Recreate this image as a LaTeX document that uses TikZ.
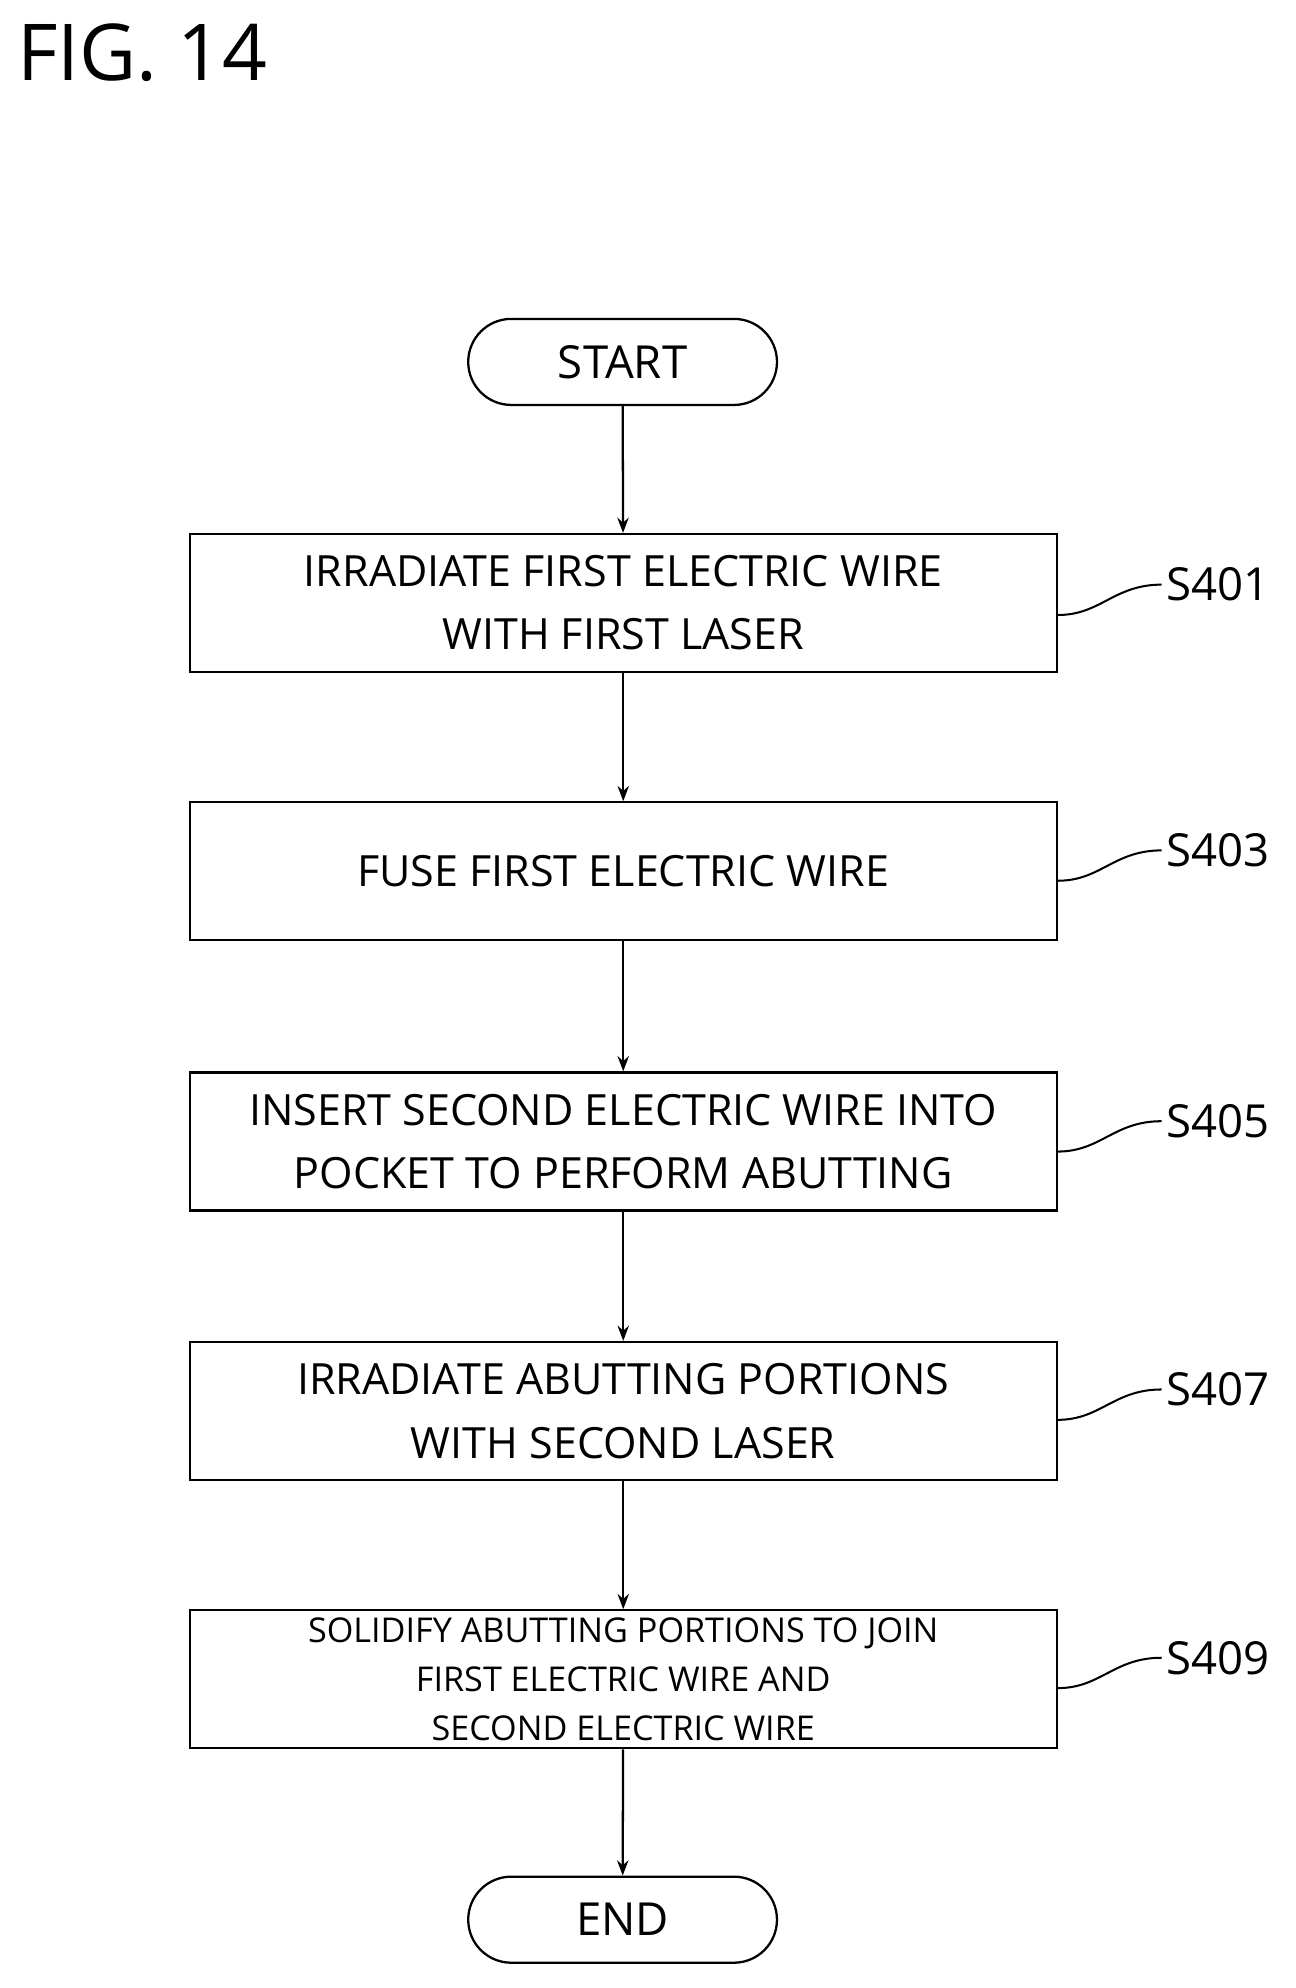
\documentclass[tikz,border=0pt]{standalone}
\usepackage{fontspec}
\setmainfont{Open Sans}
\usetikzlibrary{arrows.meta}
\begin{document}
\begin{tikzpicture}[x=1pt,y=-1pt,
  box/.style={draw,line width=1.8pt,minimum width=685pt,minimum height=109pt,align=center,inner sep=0pt,font=\fontsize{34}{50}\selectfont},
  term/.style={draw,line width=1.8pt,rounded corners=34pt,minimum width=244pt,minimum height=68pt,font=\fontsize{36}{40}\selectfont},
  lab/.style={font=\fontsize{36}{40}\selectfont},
  arr/.style={line width=1.8pt,-{Stealth[length=12pt,width=9pt]}},
  sq/.style={line width=1.6pt}]
\useasboundingbox (0,0) rectangle (1024,1571);
\node[anchor=west,font=\fontsize{62}{66}\selectfont] (fig) at (10,42) {FIG. 14};
\node[term] (start) at (492,286) {START};
\node[box] (b1) at (492.5,476.5) {IRRADIATE FIRST ELECTRIC WIRE\\WITH FIRST LASER};
\node[box] (b2) at (492.5,688.5) {FUSE FIRST ELECTRIC WIRE};
\node[box] (b3) at (492.5,902) {INSERT SECOND ELECTRIC WIRE INTO\\POCKET TO PERFORM ABUTTING};
\node[box] (b4) at (492.5,1115) {IRRADIATE ABUTTING PORTIONS\\WITH SECOND LASER};
\node[box,font=\fontsize{27}{39}\selectfont] (b5) at (492.5,1327) {SOLIDIFY ABUTTING PORTIONS TO JOIN\\FIRST ELECTRIC WIRE AND\\SECOND ELECTRIC WIRE};
\node[term] (end) at (492,1517) {END};
\draw[arr] (start) -- (b1);
\draw[arr] (b1) -- (b2);
\draw[arr] (b2) -- (b3);
\draw[arr] (b3) -- (b4);
\draw[arr] (b4) -- (b5);
\draw[arr] (b5) -- (end);
\foreach \b/\s/\y in {b1/S401/462, b2/S403/672, b3/S405/886, b4/S407/1098, b5/S409/1310}{
  \node[lab,anchor=west] (l\s) at (918,\y) {\s};
  \draw[sq] (\b.east |- 0,\y+24) .. controls (870,\y+24) and (880,\y) .. (l\s.west);
}
\end{tikzpicture}
\end{document}
